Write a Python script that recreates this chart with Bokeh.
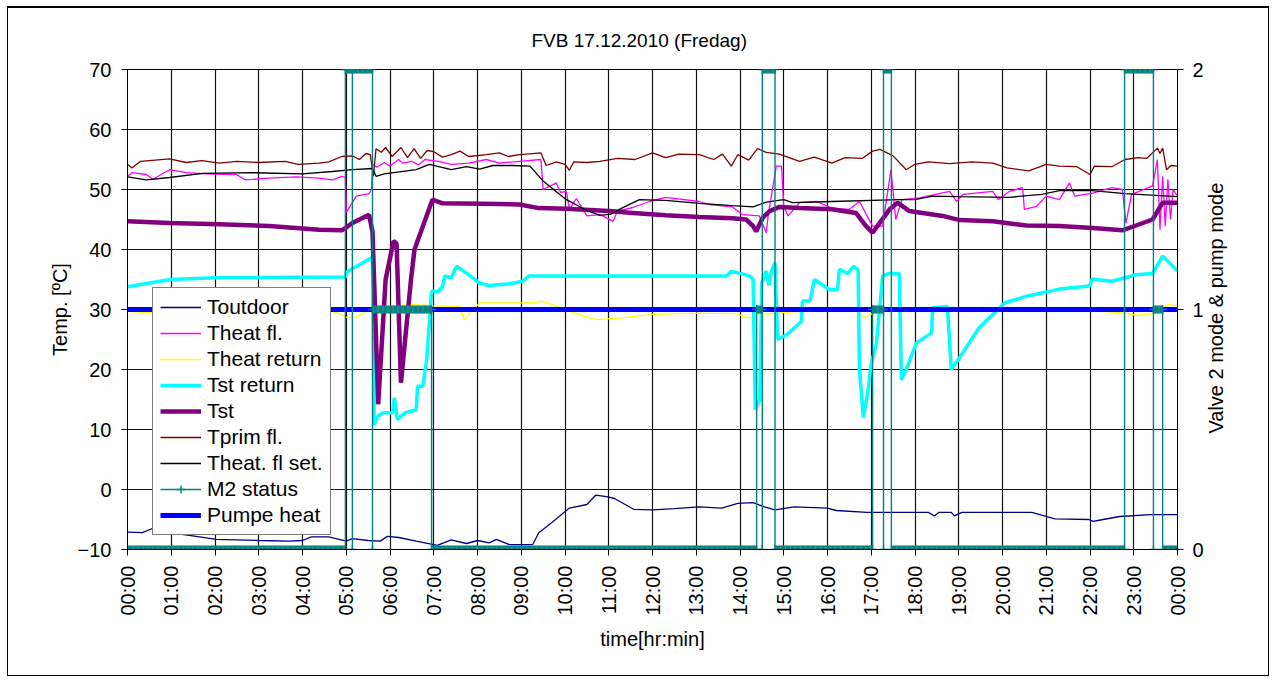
import math
from bokeh.plotting import figure
from bokeh.models import Range1d, LinearAxis, FixedTicker, Legend, LegendItem
from bokeh.embed import file_html
from bokeh.resources import INLINE

# ---------------- data ----------------
hour_ticks = [0, 1, 2, 3, 4, 5, 6, 7, 8, 9, 10, 11, 12, 13, 14, 15, 16, 17, 18, 19, 20, 21, 22, 23, 24]
hour_labels = ["00:00", "01:00", "02:00", "03:00", "04:00", "05:00", "06:00", "07:00", "08:00",
               "09:00", "10:00", "11:00", "12:00", "13:00", "14:00", "15:00", "16:00", "17:00",
               "18:00", "19:00", "20:00", "21:00", "22:00", "23:00", "00:00"]
temp_ticks = [-10, 0, 10, 20, 30, 40, 50, 60, 70]
mode_ticks = [0, 1, 2]

# (hour, value) pairs
t_outdoor = [(0.0, -7.1), (0.34, -7.2), (0.57, -6.5), (0.8, -7.0), (1.57, -7.8), (2.03, -8.3), (3.0, -8.5),
             (3.7, -8.6), (4.0, -8.5), (4.2, -7.9), (4.6, -7.9), (5.0, -8.6), (5.14, -8.2), (5.5, -8.5),
             (5.78, -8.6), (5.94, -7.8), (6.2, -8.0), (6.6, -8.6), (7.08, -9.3), (7.4, -8.4), (7.75, -9.0),
             (8.0, -8.5), (8.27, -8.9), (8.43, -8.3), (8.73, -9.2), (9.26, -9.2), (9.4, -7.2), (9.7, -5.5),
             (10.1, -3.1), (10.5, -2.5), (10.7, -0.95), (10.95, -1.2), (11.13, -1.5), (11.57, -3.3),
             (12.0, -3.4), (12.5, -3.2), (13.07, -2.9), (13.58, -3.1), (13.95, -2.3), (14.3, -2.2),
             (14.56, -2.9), (14.8, -3.4), (15.24, -2.9), (16.0, -3.1), (16.2, -3.5), (16.9, -3.8),
             (18.3, -3.8), (18.44, -4.4), (18.55, -3.8), (18.83, -3.8), (18.9, -4.4), (19.07, -3.8),
             (20.67, -3.8), (21.2, -4.9), (21.98, -5.0), (22.07, -5.3), (22.3, -5.0), (22.68, -4.5),
             (23.38, -4.2), (24.0, -4.2)]

t_heat_fl = [(0.0, 52.2), (0.1, 52.8), (0.43, 52.5), (0.58, 51.7), (0.96, 53.3), (1.34, 52.8), (1.8, 52.6),
             (2.48, 52.5), (2.7, 51.6), (3.24, 51.9), (3.85, 52.1), (4.38, 51.9), (4.68, 51.6), (4.9, 52.2),
             (4.98, 52.0), (5.0, 46.2), (5.23, 48.9), (5.52, 49.3), (5.58, 50.0), (5.6, 54.2), (5.7, 53.7),
             (5.87, 54.5), (6.0, 53.9), (6.2, 55.0), (6.28, 54.4), (6.5, 54.7), (6.65, 54.1), (6.8, 55.0),
             (7.1, 54.7), (7.4, 54.2), (7.8, 54.4), (8.2, 55.0), (8.5, 54.4), (8.96, 54.7), (9.45, 55.0),
             (9.5, 50.0), (9.8, 51.1), (9.9, 49.5), (10.03, 49.7), (10.1, 46.7), (10.26, 48.5), (10.5, 45.6),
             (10.8, 45.8), (11.1, 44.7), (11.2, 46.4), (11.55, 47.0), (11.93, 48.0), (12.3, 48.7),
             (13.07, 48.0), (13.3, 47.5), (13.83, 47.1), (14.06, 45.8), (14.44, 45.6), (14.6, 42.8),
             (14.65, 46.0), (14.83, 53.9), (14.95, 53.9), (15.0, 47.2), (15.1, 45.6), (15.36, 47.8),
             (15.75, 48.0), (16.1, 46.9), (16.5, 46.7), (16.73, 48.0), (17.03, 43.9), (17.26, 43.9),
             (17.45, 53.3), (17.56, 45.0), (17.7, 48.3), (18.1, 48.6), (18.79, 49.7), (18.95, 48.0),
             (19.1, 49.2), (19.78, 49.7), (19.9, 48.3), (20.16, 49.7), (20.46, 50.3), (20.5, 46.7),
             (20.78, 47.2), (21.0, 48.9), (21.3, 48.3), (21.53, 51.1), (21.65, 48.9), (22.06, 49.4),
             (22.5, 50.3), (22.74, 50.0), (22.82, 44.4), (22.95, 49.2), (23.43, 50.6), (23.54, 55.0),
             (23.6, 43.3), (23.66, 52.2), (23.72, 43.9), (23.78, 51.7), (23.84, 45.0), (23.9, 50.0),
             (24.0, 48.9)]

t_heat_return = [(0.0, 29.7), (0.5, 29.5), (1.0, 29.8), (2.0, 29.6), (3.0, 29.8), (4.0, 29.6), (4.6, 29.8),
                 (4.85, 29.3), (5.0, 28.7), (5.2, 28.7), (5.4, 29.5), (5.6, 30.0), (6.0, 30.5), (6.5, 30.8),
                 (7.0, 30.6), (7.6, 30.5), (7.7, 28.3), (7.9, 30.0), (8.05, 31.1), (9.3, 31.1), (9.45, 31.4),
                 (9.65, 31.0), (10.1, 29.7), (10.7, 28.3), (11.3, 28.6), (12.0, 29.2), (13.07, 29.4),
                 (13.9, 29.3), (14.2, 28.6), (14.5, 29.2), (14.7, 29.3), (15.0, 29.5), (15.5, 29.8),
                 (16.0, 30.0), (16.3, 29.7), (16.7, 29.7), (16.85, 28.6), (17.05, 29.4), (17.5, 30.1),
                 (18.0, 29.8), (20.0, 29.8), (22.0, 29.8), (22.8, 29.4), (23.1, 29.0), (23.43, 29.3),
                 (23.66, 30.2), (23.8, 30.8), (24.0, 30.6)]

t_st_return = [(0.0, 33.8), (0.57, 34.5), (1.0, 35.0), (2.0, 35.3), (4.98, 35.4), (5.0, 36.2), (5.55, 38.5),
               (5.6, 38.8), (5.64, 10.8), (5.72, 12.2), (5.85, 12.8), (6.06, 12.8), (6.1, 15.3), (6.17, 11.7),
               (6.35, 12.8), (6.6, 13.3), (6.63, 17.2), (6.75, 17.2), (6.84, 21.7), (6.95, 33.0), (7.1, 33.0),
               (7.2, 33.8), (7.25, 35.6), (7.4, 35.3), (7.52, 37.2), (7.74, 36.1), (8.05, 34.4), (8.27, 34.0),
               (8.73, 34.3), (9.03, 34.7), (9.18, 35.6), (13.7, 35.6), (13.8, 36.4), (14.22, 35.6),
               (14.3, 35.0), (14.35, 13.3), (14.45, 15.0), (14.5, 34.5), (14.6, 36.4), (14.66, 34.0),
               (14.72, 36.4), (14.8, 37.8), (14.86, 25.0), (15.07, 25.8), (15.4, 28.0), (15.43, 31.4),
               (15.6, 31.4), (15.7, 35.0), (16.05, 33.3), (16.23, 33.3), (16.27, 36.7), (16.46, 36.0),
               (16.6, 37.2), (16.7, 36.6), (16.73, 20.0), (16.82, 12.0), (16.92, 16.1), (17.0, 21.0),
               (17.12, 24.4), (17.26, 35.6), (17.4, 36.0), (17.64, 36.0), (17.69, 18.3), (17.8, 20.0),
               (18.03, 24.4), (18.38, 26.1), (18.4, 30.3), (18.74, 30.5), (18.83, 20.0), (19.02, 22.0),
               (19.47, 27.0), (20.05, 31.1), (20.55, 32.2), (21.3, 33.4), (21.99, 33.9), (22.05, 35.1),
               (22.5, 34.7), (22.8, 35.3), (23.05, 35.8), (23.43, 36.0), (23.66, 38.9), (24.0, 36.4)]

t_st = [(0.0, 44.7), (0.96, 44.4), (2.1, 44.2), (3.24, 43.9), (4.38, 43.3), (4.9, 43.2), (5.14, 44.4),
        (5.52, 45.8), (5.6, 43.0), (5.73, 14.2), (5.9, 35.0), (6.08, 41.4), (6.15, 41.0), (6.25, 17.8),
        (6.48, 35.0), (6.56, 40.0), (6.97, 48.3), (7.2, 47.7), (8.5, 47.6), (8.96, 47.5), (9.4, 46.9),
        (10.03, 46.8), (11.0, 46.4), (11.55, 46.1), (12.3, 45.7), (13.07, 45.4), (13.83, 45.2),
        (14.14, 45.0), (14.3, 43.9), (14.37, 43.0), (14.52, 45.3), (14.68, 46.4), (14.9, 47.1),
        (15.36, 46.9), (16.1, 46.7), (16.65, 46.1), (16.88, 43.9), (17.03, 42.8), (17.19, 44.4),
        (17.42, 46.7), (17.6, 47.8), (17.87, 46.4), (18.63, 45.6), (19.02, 44.9), (19.78, 44.7),
        (20.55, 44.0), (21.3, 43.9), (22.06, 43.6), (22.74, 43.2), (23.05, 44.0), (23.43, 45.0),
        (23.66, 47.8), (24.0, 47.8)]

t_prim_fl = [(0.0, 54.2), (0.1, 53.6), (0.3, 54.7), (0.96, 55.1), (1.34, 54.5), (1.7, 54.8), (2.1, 54.4),
             (2.5, 54.7), (3.0, 54.5), (3.6, 54.7), (3.9, 54.2), (4.38, 54.4), (4.6, 54.6), (4.9, 55.5),
             (5.14, 55.6), (5.3, 55.0), (5.45, 56.0), (5.55, 55.8), (5.62, 52.2), (5.68, 56.8), (5.8, 56.2),
             (5.9, 57.0), (6.05, 55.5), (6.25, 57.0), (6.4, 55.3), (6.55, 56.8), (6.7, 55.2), (6.85, 56.5),
             (7.0, 56.3), (7.2, 55.4), (7.4, 55.8), (7.6, 56.4), (7.8, 55.5), (8.2, 55.8), (8.5, 56.1),
             (8.7, 55.5), (8.96, 55.8), (9.45, 56.1), (9.57, 54.0), (9.8, 54.6), (10.0, 54.2), (10.1, 53.2),
             (10.2, 54.6), (10.5, 54.5), (10.8, 54.7), (11.2, 55.2), (11.6, 55.0), (12.0, 56.1), (12.3, 55.3),
             (12.6, 55.9), (13.07, 55.8), (13.4, 55.0), (13.6, 55.9), (13.8, 53.9), (13.95, 55.8),
             (14.2, 54.9), (14.4, 56.8), (14.6, 56.2), (14.9, 55.9), (15.36, 54.7), (15.7, 55.4),
             (16.1, 54.4), (16.4, 55.3), (16.8, 55.2), (17.03, 56.4), (17.2, 56.7), (17.5, 55.6),
             (17.8, 53.3), (18.0, 54.2), (18.3, 54.6), (18.8, 54.3), (19.3, 54.6), (19.78, 54.4),
             (20.1, 53.6), (20.6, 53.1), (21.0, 54.2), (21.3, 53.9), (21.7, 53.8), (22.0, 52.5),
             (22.1, 53.9), (22.5, 53.8), (22.8, 55.0), (23.1, 55.3), (23.3, 55.2), (23.54, 56.9),
             (23.6, 56.0), (23.66, 56.9), (23.75, 53.3), (23.85, 54.0), (24.0, 53.9)]

t_heat_fl_set = [(0.0, 52.1), (0.43, 51.6), (0.96, 52.0), (1.72, 52.7), (2.86, 52.8), (4.0, 52.6),
                 (4.68, 53.0), (5.14, 53.3), (5.6, 53.5), (5.68, 52.2), (5.87, 52.6), (6.6, 53.3),
                 (6.9, 54.2), (7.4, 53.3), (7.75, 53.8), (8.05, 53.4), (8.35, 54.0), (8.8, 54.0),
                 (9.2, 53.9), (9.5, 51.4), (10.03, 48.3), (10.5, 46.5), (10.8, 45.7), (11.05, 45.9),
                 (11.3, 46.9), (11.7, 48.3), (12.3, 48.2), (13.07, 47.7), (13.83, 47.3), (14.3, 47.1),
                 (14.6, 47.9), (15.0, 48.3), (15.2, 47.8), (16.1, 48.0), (17.64, 48.3), (18.0, 48.3),
                 (18.4, 48.9), (19.0, 48.8), (20.16, 48.7), (20.9, 49.2), (21.3, 49.8), (22.06, 49.8),
                 (22.8, 49.3), (24.0, 48.8)]

m2_status = [(0.0, 0), (4.98, 0), (4.98, 2), (5.14, 2), (5.14, 0), (5.14, 2), (5.6, 2), (5.6, 0), (5.6, 1),
             (6.95, 1), (6.95, 0), (14.38, 0), (14.38, 1), (14.51, 1), (14.51, 0), (14.51, 2), (14.8, 2),
             (14.8, 0), (17.03, 0), (17.03, 1), (17.28, 1), (17.28, 0), (17.28, 2), (17.46, 2), (17.46, 0),
             (22.79, 0), (22.79, 2), (23.45, 2), (23.45, 0), (23.45, 1), (23.66, 1), (23.66, 0), (24.0, 0)]

pumpe_heat = [(0.0, 1), (24.0, 1)]

right_title = "Valve 2 mode & pump mode"

# ---------------- figure ----------------
FONT = "Liberation Sans"
FS = "20px"

p = figure(width=1262, height=670, x_range=Range1d(0, 24), y_range=Range1d(-10, 70),
           output_backend="svg", toolbar_location=None,
           min_border_left=119, min_border_right=93, min_border_top=61, min_border_bottom=129,
           background_fill_color="white", border_fill_color="white")
p.styles = {"border": "1px solid #000000", "border-top": "2px solid #000000",
            "margin": "6px 0px 0px 7px"}
p.outline_line_color = "#000000"
# "titlepos" only positions the rotated right-hand title (its text starts at the tick value 1)
p.extra_y_ranges = {"mode": Range1d(0, 2), "titlepos": Range1d(0.517, 2.517)}

p.title.text = "FVB 17.12.2010 (Fredag)"
p.title.align = "left"
p.title.offset = 404
p.title.standoff = 37
p.title.text_font = FONT
p.title.text_font_size = "19px"
p.title.text_font_style = "normal"
p.title.text_color = "#000000"

# x axis
p.xaxis.ticker = FixedTicker(ticks=hour_ticks)
p.xaxis.major_label_overrides = {h: lab for h, lab in zip(hour_ticks, hour_labels)}
p.xaxis.major_label_orientation = math.pi / 2
p.xaxis.axis_label = "time[hr:min]"
p.xgrid.ticker = FixedTicker(ticks=hour_ticks)

# left axis
p.yaxis.ticker = FixedTicker(ticks=temp_ticks)
p.yaxis.axis_label = "Temp. [ºC]"
p.ygrid.ticker = FixedTicker(ticks=temp_ticks)

# right axis (ticks)
ax2 = LinearAxis(y_range_name="mode", ticker=FixedTicker(ticks=mode_ticks))
p.add_layout(ax2, "right")
# right-hand axis title, drawn as a rotated label reading bottom to top
ax3 = LinearAxis(y_range_name="titlepos", ticker=FixedTicker(ticks=[1]),
                 major_label_overrides={1: right_title}, major_label_orientation=math.pi / 2,
                 axis_line_color=None, major_tick_line_color=None, minor_tick_line_color=None,
                 major_tick_in=0, major_tick_out=0, major_label_standoff=23,
                 major_label_text_font=FONT, major_label_text_font_size=FS,
                 major_label_text_color="#000000")
p.add_layout(ax3, "right")

for ax in [p.xaxis[0], p.yaxis[0], ax2]:
    ax.axis_line_color = "#000000"
    ax.axis_line_width = 1
    ax.major_tick_line_color = "#000000"
    ax.major_tick_in = 0
    ax.major_tick_out = 6
    ax.minor_tick_line_color = None
    ax.major_label_text_font = FONT
    ax.major_label_text_font_size = FS
    ax.major_label_text_color = "#000000"
for ax in [p.xaxis[0], p.yaxis[0]]:
    ax.axis_label_text_font = FONT
    ax.axis_label_text_font_size = FS
    ax.axis_label_text_font_style = "normal"
    ax.axis_label_text_color = "#000000"

p.xaxis.major_label_standoff = 10
p.xaxis.axis_label_standoff = 9
p.yaxis.major_label_standoff = 10
p.yaxis.axis_label_standoff = 4
ax2.major_label_standoff = 9

for g in (p.xgrid[0], p.ygrid[0]):
    g.grid_line_color = "#111111"
    g.grid_line_width = 1.2
    g.grid_line_alpha = 1.0

# ---------------- series ----------------
def split(pairs):
    return [a for a, _ in pairs], [b for _, b in pairs]

x, y = split(t_outdoor)
r_out = p.line(x, y, line_color="#000080", line_width=1.3)
x, y = split(t_heat_fl)
r_hfl = p.line(x, y, line_color="#FF00FF", line_width=1.3)
x, y = split(t_heat_return)
r_hret = p.line(x, y, line_color="#FFFF00", line_width=1.3)
x, y = split(t_st_return)
r_stret = p.line(x, y, line_color="#00FFFF", line_width=3.5)
x, y = split(t_st)
r_st = p.line(x, y, line_color="#800080", line_width=4.5)
x, y = split(t_prim_fl)
r_prim = p.line(x, y, line_color="#800000", line_width=1.3)
x, y = split(t_heat_fl_set)
r_set = p.line(x, y, line_color="#000000", line_width=1.3)

x, y = split(pumpe_heat)
r_pump = p.line(x, y, line_color="#0000FF", line_width=5, y_range_name="mode")

mx, my = split(m2_status)
r_m2 = p.line(mx, my, line_color="#008080", line_width=1.4, y_range_name="mode")
# dense marker band on flat runs of M2 status
bx0, bx1, by = [], [], []
for i in range(len(mx) - 1):
    if my[i] == my[i + 1] and mx[i + 1] > mx[i]:
        bx0.append(mx[i]); bx1.append(mx[i + 1]); by.append(my[i])
p.segment(bx0, by, bx1, by, line_color="#0A8080", line_width=8, y_range_name="mode")
p.segment(bx0, by, bx1, by, line_color="#2E9A9A", line_width=8, line_dash="1 4", y_range_name="mode")
r_m2m = p.scatter(mx, my, marker="cross", size=9, line_color="#008080", line_width=1.4,
                  y_range_name="mode")

# ---------------- legend ----------------
items = [
    LegendItem(label="Toutdoor", renderers=[r_out]),
    LegendItem(label="Theat fl.", renderers=[r_hfl]),
    LegendItem(label="Theat return", renderers=[r_hret]),
    LegendItem(label="Tst return", renderers=[r_stret]),
    LegendItem(label="Tst", renderers=[r_st]),
    LegendItem(label="Tprim fl.", renderers=[r_prim]),
    LegendItem(label="Theat. fl set.", renderers=[r_set]),
    LegendItem(label="M2 status", renderers=[r_m2, r_m2m]),
    LegendItem(label="Pumpe heat", renderers=[r_pump]),
]
legend = Legend(items=items, location=(25, 14), margin=0, padding=7, spacing=2,
                glyph_width=41, glyph_height=20, label_height=20, label_standoff=6,
                label_text_font=FONT, label_text_font_size="21px", label_text_color="#000000",
                border_line_color="#000000", border_line_width=1,
                background_fill_color="white", background_fill_alpha=1.0)
p.add_layout(legend)

open("out.html", "w").write(file_html(p, INLINE))
